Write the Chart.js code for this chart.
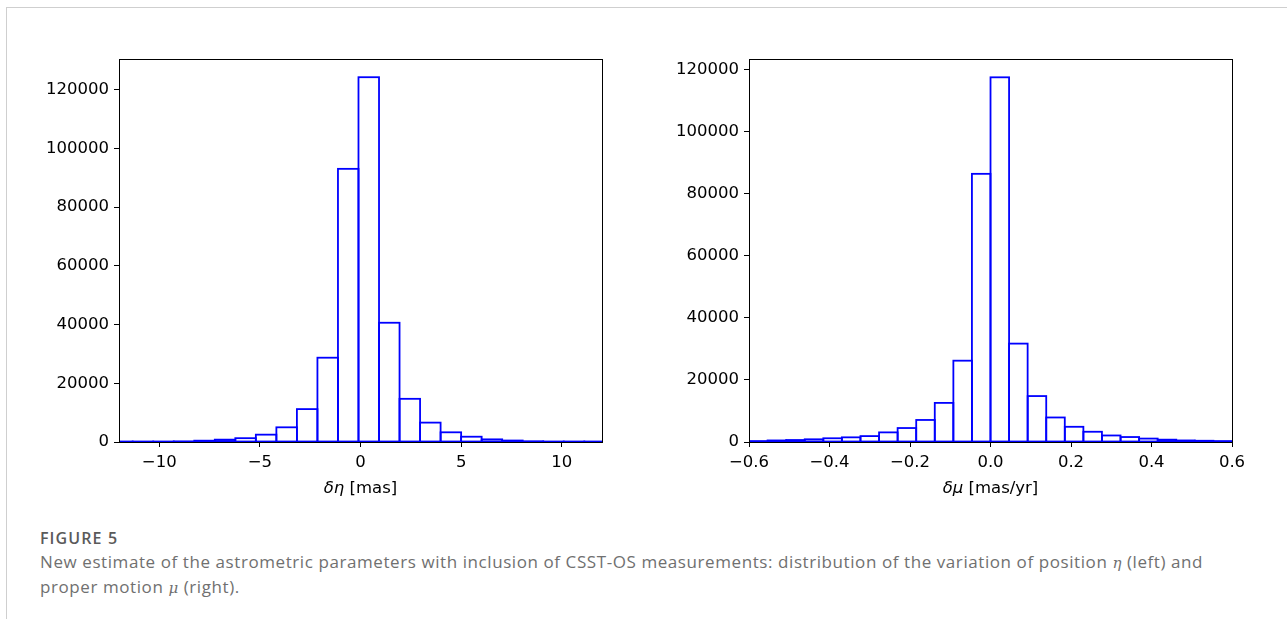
<!DOCTYPE html>
<html>
<head>
<meta charset="utf-8">
<script src="https://cdn.jsdelivr.net/npm/chart.js@4/dist/chart.umd.min.js"></script>
<style>
  html, body { margin: 0; padding: 0; background: #fff; }
  body { width: 1287px; height: 619px; position: relative; overflow: hidden; }
  .frame { position: absolute; left: 6px; top: 7px; width: 1400px; height: 700px;
           border-top: 1px solid #cfcfcf; border-left: 1px solid #cfcfcf; }
  canvas { position: absolute; }
  #etaChart { left: 20px; top: 40px; }
  #muChart { left: 660px; top: 40px; }
  .caption { position: absolute; left: 40px; top: 527px; font-family: "Open Sans", sans-serif; color: #707070; }
  .caption .fig { font-size: 16px; font-weight: 600; color: #5a5a5a; line-height: 22px; letter-spacing: 1.1px; }
  .caption .txt { font-size: 17px; line-height: 23px; letter-spacing: 0.58px; margin-top: 1px; white-space: nowrap; }
  .caption i { font-family: "DejaVu Serif", serif; font-size: 15px; }
</style>
</head>
<body>
<div class="frame"></div>
<canvas id="etaChart" width="600" height="480"></canvas>
<canvas id="muChart" width="620" height="480"></canvas>
<div class="caption">
  <div class="fig">FIGURE 5</div>
  <div class="txt">New estimate of the astrometric parameters with inclusion of CSST-OS measurements: distribution of the variation of position <i>η</i> (left) and<br>proper motion <i>μ</i> (right).</div>
</div>
<script>
// Left panel: position variation, bin centres [mas] and counts
const etaBins = [-11.83, -10.81, -9.79, -8.77, -7.75, -6.73, -5.71, -4.69, -3.67, -2.65, -1.63, -0.61,
                 0.41, 1.43, 2.45, 3.47, 4.49, 5.51, 6.53, 7.55, 8.57, 9.59, 10.61, 11.63];
const etaCounts = [30, 60, 120, 220, 450, 800, 1300, 2500, 5000, 11200, 28700, 93000,
                   124200, 40600, 14700, 6600, 3300, 1800, 900, 500, 250, 130, 70, 30];
const etaXTicks = [-10, -5, 0, 5, 10];
const etaYTicks = [0, 20000, 40000, 60000, 80000, 100000, 120000];

// Right panel: proper motion variation, bin centres [mas/yr] and counts
const muBins = [-0.5769, -0.5308, -0.4846, -0.4385, -0.3923, -0.3462, -0.3000, -0.2538, -0.2077, -0.1615,
                -0.1154, -0.0692, -0.0231, 0.0231, 0.0692, 0.1154, 0.1615, 0.2077, 0.2538, 0.3000,
                0.3462, 0.3923, 0.4385, 0.4846, 0.5308, 0.5769];
const muCounts = [300, 500, 640, 870, 1200, 1500, 1900, 3100, 4500, 7100, 12600, 26200, 86400,
                  117500, 31700, 14800, 7900, 4900, 3300, 2100, 1600, 1100, 750, 500, 400, 300];
const muXTicks = [-0.6, -0.4, -0.2, 0.0, 0.2, 0.4, 0.6];
const muYTicks = [0, 20000, 40000, 60000, 80000, 100000, 120000];

const TICK_FONT = { family: 'DejaVu Sans', size: 16.5 };
const BLUE = '#0000ff';

const minus = s => s.replace('-', '\u2212');
const align = v => Math.round(v - 0.5) + 0.5;

// matplotlib-like look: bar edges centred on the bin boundaries, four spines on top,
// and an x label whose symbol part is italic
const axesBox = {
    id: 'axesBox',
    afterDatasetsDraw(chart) {
        const { ctx, chartArea: a } = chart;
        ctx.save();
        ctx.beginPath();
        ctx.rect(a.left, a.top, a.right - a.left, a.bottom - a.top);
        ctx.clip();
        ctx.strokeStyle = BLUE;
        ctx.lineWidth = 1.8;
        chart.getDatasetMeta(0).data.forEach(bar => {
            const top = Math.min(bar.y, bar.base);
            ctx.strokeRect(bar.x - bar.width / 2, top, bar.width, Math.abs(bar.base - bar.y));
        });
        ctx.restore();

        ctx.save();
        ctx.strokeStyle = '#000';
        ctx.lineWidth = 1;
        const l = align(a.left), t = align(a.top), r = align(a.right), b = align(a.bottom);
        ctx.strokeRect(l, t, r - l, b - t);
        ctx.restore();
    },
    afterDraw(chart) {
        const { ctx, chartArea: a } = chart;
        const text = chart.options.scales.x.title.text;
        const cut = text.indexOf(' ');
        const sym = text.slice(0, cut), rest = text.slice(cut);
        ctx.save();
        ctx.fillStyle = '#000';
        ctx.textBaseline = 'middle';
        ctx.font = 'italic 16.5px "DejaVu Sans"';
        const w1 = ctx.measureText(sym).width;
        ctx.font = '16.5px "DejaVu Sans"';
        const w2 = ctx.measureText(rest).width;
        const x = (a.left + a.right) / 2 - (w1 + w2) / 2;
        const y = a.bottom + 47;
        ctx.font = 'italic 16.5px "DejaVu Sans"';
        ctx.fillText(sym, x, y);
        ctx.font = '16.5px "DejaVu Sans"';
        ctx.fillText(rest, x + w1, y);
        ctx.restore();
    }
};

function histogram(id, bins, counts, opts) {
    return new Chart(document.getElementById(id), {
        type: 'bar',
        data: {
            datasets: [{
                data: bins.map((b, i) => ({ x: b, y: counts[i] })),
                backgroundColor: '#ffffff',
                borderWidth: 0,
                inflateAmount: 0,
                barPercentage: 1,
                categoryPercentage: 1
            }]
        },
        options: {
            responsive: false,
            animation: false,
            devicePixelRatio: 1,
            layout: { padding: { left: 0, top: 19, right: opts.padRight, bottom: 0 } },
            plugins: { legend: { display: false }, tooltip: { enabled: false } },
            scales: {
                x: {
                    type: 'linear',
                    offset: false,
                    min: opts.xMin, max: opts.xMax,
                    afterBuildTicks: s => { s.ticks = opts.xTicks.map(v => ({ value: v })); },
                    afterFit: s => { s.height = 78; s.paddingLeft = 0; s.paddingRight = 0; },
                    grid: { offset: false, drawOnChartArea: false, drawTicks: true, tickLength: 5, tickColor: '#000', tickWidth: 1 },
                    border: { display: true, color: '#000', width: 1 },
                    ticks: { color: '#000', font: TICK_FONT, padding: 6, maxRotation: 0, autoSkip: false,
                             callback: v => minus(opts.xFormat(v)) },
                    title: { display: false, text: opts.xLabel }
                },
                y: {
                    min: 0, max: opts.yMax,
                    afterBuildTicks: s => { s.ticks = opts.yTicks.map(v => ({ value: v })); },
                    afterFit: s => { s.width = opts.yWidth; s.paddingTop = 0; s.paddingBottom = 0; },
                    grid: { drawOnChartArea: false, drawTicks: true, tickLength: 5, tickColor: '#000', tickWidth: 1 },
                    border: { display: true, color: '#000', width: 1 },
                    ticks: { color: '#000', font: TICK_FONT, padding: 5, callback: v => String(v) }
                }
            }
        },
        plugins: [axesBox]
    });
}

histogram('etaChart', etaBins, etaCounts, {
    xMin: -12, xMax: 12, xTicks: etaXTicks, yTicks: etaYTicks, yMax: 130400,
    xFormat: v => String(v), xLabel: '\u03b4\u03b7 [mas]', yWidth: 99, padRight: 18
});
histogram('muChart', muBins, muCounts, {
    xMin: -0.6, xMax: 0.6, xTicks: muXTicks, yTicks: muYTicks, yMax: 123400,
    xFormat: v => v.toFixed(1), xLabel: '\u03b4\u03bc [mas/yr]', yWidth: 89, padRight: 48
});
</script>
</body>
</html>
